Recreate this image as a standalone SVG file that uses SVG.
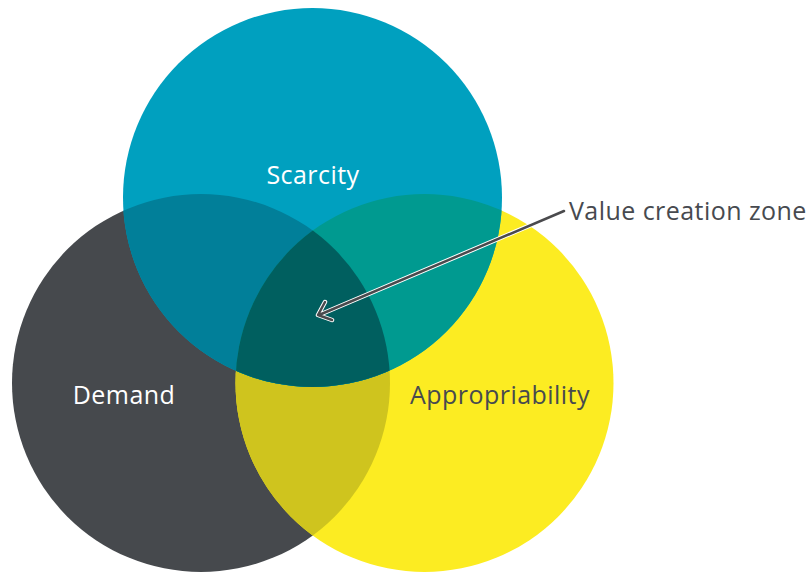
<svg xmlns="http://www.w3.org/2000/svg" width="811" height="574" viewBox="0 0 811 574">
<defs>
<style>
.lbl{font-family:"Open Sans",Lato,sans-serif;font-size:25px;letter-spacing:0.45px}
.w{fill:#ffffff}
.d{fill:#474a4f}
.arr{fill:none;stroke-linecap:round;stroke-linejoin:round}
</style>
<clipPath id="cS"><circle cx="312.5" cy="197.5" r="189.5"/></clipPath>
<clipPath id="cD"><circle cx="201" cy="383" r="189"/></clipPath>
</defs>
<g id="demand">
<circle cx="201" cy="383" r="189" fill="#46494d"/>
<text class="lbl w" x="124" y="404" text-anchor="middle">Demand</text>
</g>
<g id="appropriability">
<circle cx="424.5" cy="383" r="189" fill="#fcec22"/>
<g clip-path="url(#cD)"><circle cx="424.5" cy="383" r="189" fill="#cfc41e"/></g>
</g>
<g id="scarcity">
<circle cx="312.5" cy="197.5" r="189.5" fill="#00a0bf"/>
<g clip-path="url(#cS)">
<circle cx="201" cy="383" r="189" fill="#017f99"/>
<circle cx="424.5" cy="383" r="189" fill="#009a90"/>
<g clip-path="url(#cD)"><circle cx="424.5" cy="383" r="189" fill="#005f5f"/></g>
</g>
<text class="lbl w" x="313" y="184" text-anchor="middle">Scarcity</text>
</g>
<g id="appropriability-label">
<text class="lbl d" x="500" y="404" text-anchor="middle">Appropriability</text>
</g>
<g id="connectors">
<path class="arr" d="M 564 211 L 319 315 M 325 302 L 318 315 L 332 320" stroke="#ffffff" stroke-width="4.5"/>
<path class="arr" d="M 564 211 L 319 315 M 325 302 L 318 315 L 332 320" stroke="#4a4a4d" stroke-width="2.5"/>
</g>
<g id="value-zone">
<text class="lbl d" x="569" y="220">Value creation zone</text>
</g>
</svg>
